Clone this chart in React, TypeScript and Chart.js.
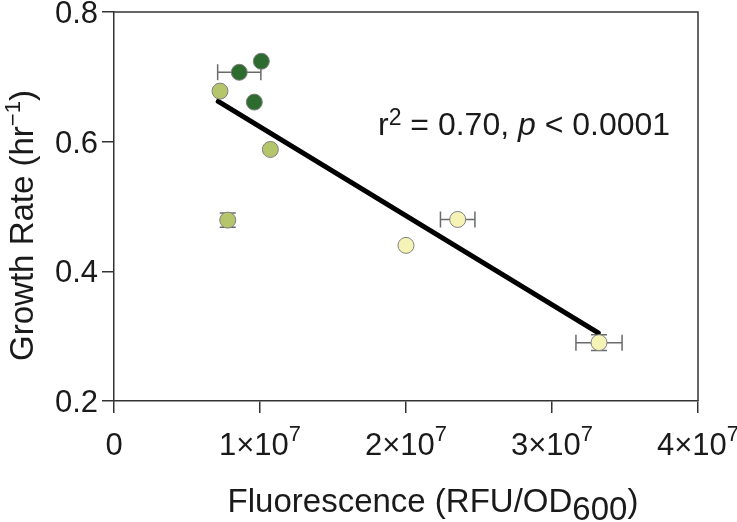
import React, { useEffect, useRef } from "react";
import { Chart, registerables } from "chart.js";
Chart.register(...registerables);

const FONT = '"Liberation Sans", Arial, Helvetica, sans-serif';

// Dark green strains
const darkX = [0.858e7, 1.009e7, 0.961e7];
const darkY = [0.707, 0.724, 0.661];
const darkXErr = [0.148e7, 0, 0];
const darkYErr = [0, 0, 0];

// Light green strains
const lightX = [0.726e7, 1.071e7, 0.779e7];
const lightY = [0.678, 0.588, 0.479];
const lightXErr = [0, 0, 0];
const lightYErr = [0, 0, 0.011];

// Pale yellow strains
const paleX = [2.354e7, 2.0e7, 3.322e7];
const paleY = [0.48, 0.44, 0.29];
const paleXErr = [0.118e7, 0, 0.158e7];
const paleYErr = [0, 0, 0.012];

// Regression line end points
const fitX = [0.714e7, 3.317e7];
const fitY = [0.662, 0.305];

// Ticks
const xTickValues = [0, 1e7, 2e7, 3e7, 4e7];
const xTickMantissa = ["0", "1", "2", "3", "4"];
const yTickValues = [0.2, 0.4, 0.6, 0.8];
const yTickLabels = ["0.2", "0.4", "0.6", "0.8"];

const annotation = { r2: "0.70", p: "0.0001" };

const toPts = (xs: number[], ys: number[]) => xs.map((x, i) => ({ x, y: ys[i] }));

export default function App() {
  const ref = useRef<HTMLCanvasElement>(null);
  useEffect(() => {
    document.body.style.margin = "0";
    const canvas = ref.current!;
    const errorBars = {
      id: "errorBars",
      beforeDatasetsDraw(chart: any) {
        const { ctx, scales } = chart;
        const xs = scales.x, ys = scales.y;
        ctx.save();
        ctx.strokeStyle = "#6a6a6a";
        ctx.lineWidth = 1.5;
        chart.data.datasets.forEach((ds: any) => {
          if (!ds.xErr) return;
          ds.data.forEach((p: any, i: number) => {
            const cx = xs.getPixelForValue(p.x);
            const cy = ys.getPixelForValue(p.y);
            const xe = ds.xErr[i], ye = ds.yErr[i];
            if (xe > 0) {
              const x1 = xs.getPixelForValue(p.x - xe);
              const x2 = xs.getPixelForValue(p.x + xe);
              ctx.beginPath();
              ctx.moveTo(x1, cy); ctx.lineTo(x2, cy);
              ctx.moveTo(x1, cy - 8); ctx.lineTo(x1, cy + 8);
              ctx.moveTo(x2, cy - 8); ctx.lineTo(x2, cy + 8);
              ctx.stroke();
            }
            if (ye > 0) {
              const y1 = ys.getPixelForValue(p.y - ye);
              const y2 = ys.getPixelForValue(p.y + ye);
              ctx.beginPath();
              ctx.moveTo(cx, y1); ctx.lineTo(cx, y2);
              ctx.moveTo(cx - 8, y1); ctx.lineTo(cx + 8, y1);
              ctx.moveTo(cx - 8, y2); ctx.lineTo(cx + 8, y2);
              ctx.stroke();
            }
          });
        });
        ctx.restore();
      },
    };
    const decor = {
      id: "decor",
      afterDraw(chart: any) {
        const { ctx, chartArea, scales } = chart;
        const { left, right, top, bottom } = chartArea;
        ctx.save();
        // frame
        ctx.strokeStyle = "#333";
        ctx.lineWidth = 1.5;
        ctx.beginPath();
        ctx.moveTo(left, top);
        ctx.lineTo(right, top);
        ctx.lineTo(right, bottom);
        ctx.stroke();
        ctx.fillStyle = "#1a1a1a";
        // y tick labels
        ctx.font = `31px ${FONT}`;
        ctx.textAlign = "right";
        ctx.textBaseline = "alphabetic";
        yTickValues.forEach((v, i) => {
          const y = scales.y.getPixelForValue(v);
          ctx.fillText(yTickLabels[i], left - 16, y + 11);
        });
        // x tick labels
        ctx.textAlign = "left";
        xTickValues.forEach((v, i) => {
          const x = scales.x.getPixelForValue(v);
          if (v === 0) {
            ctx.font = `31px ${FONT}`;
            const w = ctx.measureText("0").width;
            ctx.fillText("0", x - w / 2, bottom + 54);
            return;
          }
          const main = `${xTickMantissa[i]}\u00d710`;
          ctx.font = `31px ${FONT}`;
          const w1 = ctx.measureText(main).width;
          ctx.font = `22px ${FONT}`;
          const w2 = ctx.measureText("7").width;
          const sx = x - (w1 + w2) / 2;
          ctx.font = `31px ${FONT}`;
          ctx.fillText(main, sx, bottom + 54);
          ctx.font = `22px ${FONT}`;
          ctx.fillText("7", sx + w1, bottom + 40);
        });
        // x title
        {
          const a = "Fluorescence (RFU/OD";
          const b = "600";
          const c = ")";
          ctx.font = `33px ${FONT}`;
          const wa = ctx.measureText(a).width;
          const wb = ctx.measureText(b).width;
          const wc = ctx.measureText(c).width;
          const cx = (left + right) / 2 + 27;
          let sx = cx - (wa + wb + wc) / 2;
          const by = bottom + 111;
          ctx.fillText(a, sx, by);
          sx += wa;
          ctx.fillText(b, sx, by + 8);
          sx += wb;
          ctx.fillText(c, sx, by);
        }
        // y title
        {
          const a = "Growth Rate (hr";
          const b = "\u22121";
          const c = ")";
          ctx.font = `33px ${FONT}`;
          const wa = ctx.measureText(a).width;
          const wc = ctx.measureText(c).width;
          ctx.font = `22px ${FONT}`;
          const wb = ctx.measureText(b).width;
          const total = wa + wb + wc;
          ctx.translate(33, (top + bottom) / 2 + 19);
          ctx.rotate(-Math.PI / 2);
          let sx = -total / 2;
          ctx.font = `33px ${FONT}`;
          ctx.fillText(a, sx, 0);
          sx += wa;
          ctx.font = `22px ${FONT}`;
          ctx.fillText(b, sx, -13);
          sx += wb;
          ctx.font = `33px ${FONT}`;
          ctx.fillText(c, sx, 0);
          ctx.setTransform(1, 0, 0, 1, 0, 0);
        }
        // annotation
        {
          let sx = left + 264;
          const by = top + 123;
          ctx.font = `32px ${FONT}`;
          ctx.fillText("r", sx, by);
          sx += ctx.measureText("r").width;
          ctx.font = `23px ${FONT}`;
          ctx.fillText("2", sx, by - 10);
          sx += ctx.measureText("2").width;
          ctx.font = `32px ${FONT}`;
          const t1 = ` = ${annotation.r2}, `;
          ctx.fillText(t1, sx, by);
          sx += ctx.measureText(t1).width;
          ctx.font = `italic 32px ${FONT}`;
          ctx.fillText("p", sx, by);
          sx += ctx.measureText("p").width;
          ctx.font = `32px ${FONT}`;
          ctx.fillText(` < ${annotation.p}`, sx, by);
        }
        ctx.restore();
      },
    };
    const pointStyle = (color: string) => ({
      type: "scatter" as const,
      backgroundColor: color,
      borderColor: "#7f7f7f",
      borderWidth: 1,
      pointRadius: 8,
      pointHoverRadius: 8,
    });
    const chart = new Chart(canvas, {
      type: "scatter",
      data: {
        datasets: [
          { ...pointStyle("#2e6b2f"), data: toPts(darkX, darkY), xErr: darkXErr, yErr: darkYErr } as any,
          { ...pointStyle("#b4c56b"), data: toPts(lightX, lightY), xErr: lightXErr, yErr: lightYErr } as any,
          { ...pointStyle("#f6f3b7"), data: toPts(paleX, paleY), xErr: paleXErr, yErr: paleYErr } as any,
          {
            type: "line",
            data: toPts(fitX, fitY),
            borderColor: "#000",
            borderWidth: 5,
            pointRadius: 0,
            showLine: true,
            fill: false,
            borderCapStyle: "round",
          } as any,
        ],
      },
      options: {
        responsive: false,
        animation: false,
        devicePixelRatio: 1,
        layout: { padding: { left: 0, top: 12, right: 39, bottom: 0 } },
        plugins: { legend: { display: false }, tooltip: { enabled: false } },
        events: [],
        scales: {
          x: {
            type: "linear",
            min: 0,
            max: 4e7,
            afterBuildTicks: (s: any) => { s.ticks = xTickValues.map((v) => ({ value: v })); },
            afterFit: (s: any) => { s.height = 121; },
            ticks: { display: false },
            grid: { drawOnChartArea: false, drawTicks: true, tickLength: 12, color: "#333", lineWidth: 1.5 },
            border: { display: true, color: "#333", width: 1.5 },
          },
          y: {
            type: "linear",
            min: 0.2,
            max: 0.8,
            afterBuildTicks: (s: any) => { s.ticks = yTickValues.map((v) => ({ value: v })); },
            afterFit: (s: any) => { s.width = 114; },
            ticks: { display: false },
            grid: { drawOnChartArea: false, drawTicks: true, tickLength: 12, color: "#333", lineWidth: 1.5 },
            border: { display: true, color: "#333", width: 1.5 },
          },
        },
      },
      plugins: [errorBars, decor],
    } as any);
    return () => chart.destroy();
  }, []);
  return (
    <div style={{ width: 737, height: 522 }}>
      <canvas ref={ref} width={737} height={522} style={{ display: "block" }} />
    </div>
  );
}
